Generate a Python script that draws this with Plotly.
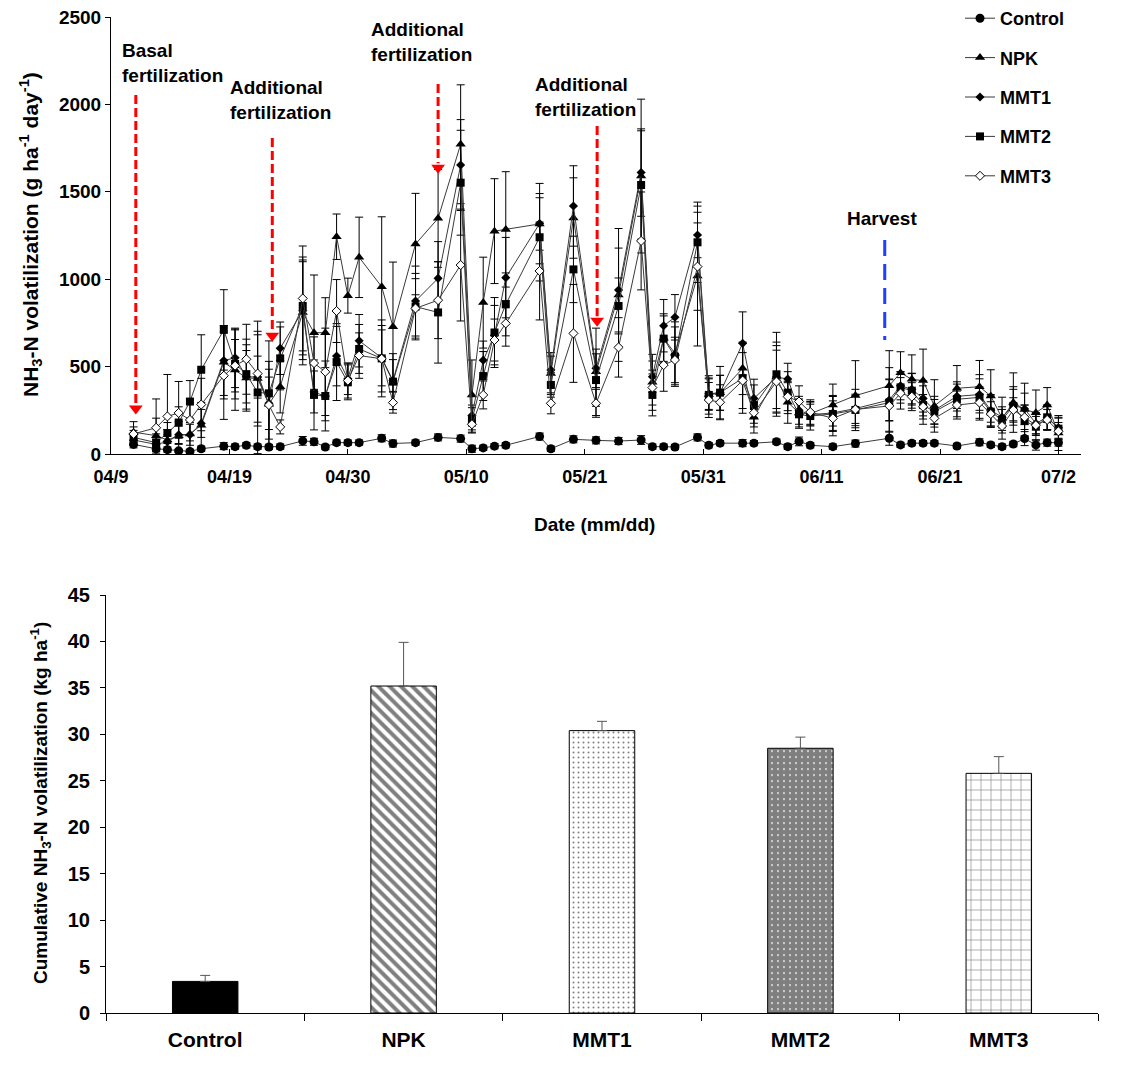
import plotly.graph_objects as go

# ---------------- data: daily NH3-N volatilization ----------------
# day offsets from 04/9
days = [2, 4, 5, 6, 7, 8, 10, 11, 12, 13, 14, 15, 17, 18, 19, 20, 21, 22, 24, 25, 27, 29,
        31, 32, 33, 34, 35, 38, 39, 41, 43, 45, 47, 48, 49, 50, 52, 53, 54, 56, 57, 59, 60,
        61, 62, 64, 66, 69, 70, 71, 72, 73, 75, 77, 78, 79, 80, 81, 82, 83, 84]

control = [55, 30, 25, 18, 15, 30, 45, 42, 50, 42, 40, 42, 75, 70, 40, 65, 65, 65, 90, 60, 65, 95,
           88, 30, 35, 45, 50, 100, 30, 84, 78, 74, 80, 42, 42, 40, 95, 50, 62, 62, 62, 70, 42,
           72, 50, 42, 60, 90, 52, 62, 62, 62, 46, 67, 52, 42, 57, 88, 52, 65, 65]
npk = [125, 105, 80, 105, 115, 165, 525, 480, 435, 432, 285, 385, 810, 694, 694, 1243, 906, 1125, 957, 728, 1201, 1348,
       1772, 338, 866, 1275, 1285, 1316, 460, 1350, 470, 910, 1590, 410, 662, 576, 1018, 340, 350, 490, 210, 440, 296,
       235, 230, 280, 334, 391, 465, 427, 420, 275, 376, 385, 332, 205, 294, 255, 236, 280, 120]
mmt1 = [80, 55, 70, 110, 110, 175, 535, 550, 442, 440, 290, 605, 820, 355, 330, 560, 430, 648, 550, 420, 875, 1005,
        1653, 220, 536, 680, 1009, 1318, 480, 1419, 490, 938, 1610, 442, 734, 782, 1253, 345, 350, 633, 318, 440, 429,
        250, 225, 235, 260, 309, 390, 370, 318, 250, 330, 340, 250, 210, 280, 258, 175, 210, 150]
mmt2 = [95, 65, 120, 180, 300, 482, 710, 515, 457, 352, 347, 547, 847, 338, 332, 526, 410, 601, 547, 414, 843, 810,
        1552, 195, 446, 695, 856, 1240, 395, 1056, 423, 847, 1539, 338, 660, 557, 1211, 338, 351, 433, 275, 456, 351,
        227, 217, 229, 252, 294, 381, 362, 280, 242, 313, 324, 242, 195, 275, 190, 156, 210, 145]
mmt3 = [115, 150, 215, 235, 195, 283, 448, 505, 542, 460, 280, 155, 890, 520, 470, 818, 420, 563, 545, 294, 833, 880,
        1081, 170, 338, 652, 747, 1047, 290, 690, 290, 610, 1219, 380, 509, 538, 1072, 309, 296, 420, 236, 414, 328,
        300, 240, 204, 255, 275, 347, 328, 270, 204, 280, 294, 229, 160, 252, 210, 165, 195, 130]

control_err = [20, 15, 15, 10, 10, 15, 20, 15, 15, 15, 15, 15, 25, 20, 15, 15, 15, 15, 20, 20, 15, 20,
               20, 20, 15, 15, 15, 20, 15, 20, 20, 20, 25, 15, 15, 15, 20, 15, 15, 20, 15, 15, 15,
               25, 15, 15, 20, 40, 15, 15, 15, 15, 15, 20, 15, 15, 15, 40, 30, 20, 20]
npk_err = [60, 100, 60, 80, 90, 130, 210, 230, 190, 250, 200, 150, 300, 330, 200, 130, 100, 230, 400, 370, 290, 280,
           340, 200, 260, 300, 330, 150, 120, 230, 250, 380, 440, 160, 140, 180, 400, 90, 100, 150, 90, 200, 120,
           80, 70, 120, 200, 200, 120, 140, 180, 150, 130, 150, 150, 120, 170, 150, 130, 100, 100]
mmt1_err = [30, 30, 40, 50, 60, 80, 200, 170, 150, 120, 150, 150, 280, 120, 140, 170, 90, 150, 160, 120, 200, 210,
            260, 60, 110, 170, 230, 230, 80, 230, 110, 240, 250, 90, 150, 130, 130, 90, 100, 180, 110, 180, 90,
            80, 60, 100, 110, 120, 80, 90, 100, 80, 70, 90, 90, 60, 90, 90, 60, 70, 60]
mmt2_err = [40, 50, 60, 90, 120, 200, 230, 200, 200, 350, 300, 180, 280, 200, 200, 220, 100, 140, 220, 160, 190, 290,
            300, 70, 140, 200, 180, 250, 70, 190, 150, 160, 310, 120, 130, 170, 230, 110, 150, 200, 120, 240, 120,
            80, 80, 100, 90, 200, 90, 100, 110, 70, 100, 130, 90, 60, 110, 90, 80, 70, 60]
mmt3_err = [40, 165, 240, 180, 120, 150, 250, 150, 200, 300, 250, 40, 300, 150, 250, 180, 100, 130, 190, 60, 170, 220,
            320, 50, 80, 120, 130, 280, 60, 280, 80, 170, 280, 100, 150, 130, 250, 100, 100, 160, 60, 180, 80,
            90, 70, 100, 80, 150, 90, 80, 70, 50, 80, 90, 70, 40, 70, 70, 50, 60, 50]

tick_days = [0, 10.5, 21, 31.5, 42, 52.5, 63, 73.5, 84]
tick_labels = ["04/9", "04/19", "04/30", "05/10", "05/21", "05/31", "06/11", "06/21", "07/2"]

# ---------------- data: cumulative ----------------
treatments = ["Control", "NPK", "MMT1", "MMT2", "MMT3"]
cumulative = [3.4, 35.2, 30.4, 28.5, 25.8]
cumulative_err = [0.65, 4.7, 1.0, 1.2, 1.8]

FONT = "Liberation Sans, Arial, sans-serif"
W, H = 1130, 1087

fig = go.Figure()

series = [
    ("Control", control, control_err, dict(symbol="circle", size=9, color="black")),
    ("NPK", npk, npk_err, dict(symbol="triangle-up", size=9, color="black")),
    ("MMT1", mmt1, mmt1_err, dict(symbol="diamond", size=7, color="black")),
    ("MMT2", mmt2, mmt2_err, dict(symbol="square", size=8, color="black")),
    ("MMT3", mmt3, mmt3_err, dict(symbol="diamond", size=7, color="white",
                                   line=dict(color="black", width=1))),
]
for i, (name, vals, errs, mk) in enumerate(series):
    fig.add_trace(go.Scatter(
        x=days, y=vals, name=name, mode="lines+markers",
        line=dict(color="#3a3a3a", width=1), marker=mk,
        error_y=dict(type="data", array=errs, visible=True, color="black", thickness=1, width=4),
        legendgroup=f"g{i}", xaxis="x", yaxis="y"))

# bar fill styles (one trace per treatment)
bar_styles = [
    dict(color="black"),
    dict(color="white", pattern=dict(shape="\\", size=8, solidity=0.5, fgcolor="black",
                                     bgcolor="white", fillmode="overlay")),
    dict(color="white", pattern=dict(shape=".", size=5, solidity=0.12, fgcolor="black",
                                     bgcolor="white", fillmode="overlay")),
    dict(color="white", pattern=dict(shape=".", size=6, solidity=0.85, fgcolor="black",
                                     bgcolor="white", fillmode="overlay")),
    dict(color="white", pattern=dict(shape="+", size=10, solidity=0.12, fgcolor="black",
                                     bgcolor="white", fillmode="overlay")),
]
for i, t in enumerate(treatments):
    st = dict(bar_styles[i])
    st["line"] = dict(color="black", width=1)
    fig.add_trace(go.Bar(
        x=[t], y=[cumulative[i]], width=0.33, showlegend=False, xaxis="x2", yaxis="y2",
        marker=st,
        error_y=dict(type="data", array=[cumulative_err[i]], symmetric=False, arrayminus=[0],
                     visible=True, color="#555555", thickness=1, width=5)))


def px_x(p):
    return p / W


def px_y(p):
    return 1 - p / H


# annotation arrows (red dashed, fertilization events) and harvest line, top-panel data coords
arrow_x = [2.2, 14.3, 29.0, 43.1]
arrow_top = [2054, 1808, 2117, 1876]
arrow_tip = [235, 652, 1613, 738]

fig.add_trace(go.Scatter(
    x=arrow_x, y=[v + 25 for v in arrow_tip], mode="markers", showlegend=False, hoverinfo="skip",
    marker=dict(symbol="triangle-down", size=12, color="#ff0000", line=dict(width=0)),
    xaxis="x", yaxis="y"))

fig.update_layout(
    width=W, height=H, margin=dict(l=0, r=0, t=0, b=0, autoexpand=False),
    plot_bgcolor="white", paper_bgcolor="white", barmode="overlay",
    font=dict(family=FONT, color="black", size=18),
    xaxis=dict(domain=[px_x(111), px_x(1081)], range=[0, 86], tickvals=tick_days,
               ticktext=[f"<b>{t}</b>" for t in tick_labels], ticks="inside", ticklen=5,
               tickcolor="black", showline=True, linecolor="black", linewidth=1,
               showgrid=False, zeroline=False, automargin=False, ticklabelstandoff=6,
               tickfont=dict(size=18, family=FONT)),
    yaxis=dict(domain=[px_y(454), px_y(17)], range=[0, 2500], dtick=500, ticks="outside",
               ticklen=5, tickcolor="black", showline=True, linecolor="black", linewidth=1,
               showgrid=False, zeroline=False, automargin=False,
               tickfont=dict(size=19, family=FONT, weight="bold")),
    xaxis2=dict(domain=[px_x(106), px_x(1098)], range=[-0.5, 4.5], type="category",
                tickson="boundaries", ticks="outside", ticklen=7, tickcolor="black",
                showline=True, linecolor="black", linewidth=1, showgrid=False,
                automargin=False, categoryorder="array", categoryarray=treatments,
                tickvals=treatments, ticktext=[f"<b>{t}</b>" for t in treatments],
                ticklabelstandoff=8,
                tickfont=dict(size=21, family=FONT), anchor="y2"),
    yaxis2=dict(domain=[px_y(1013), px_y(595)], range=[0, 45], dtick=5, ticks="outside",
                ticklen=5, tickcolor="black", showline=True, linecolor="black", linewidth=1,
                showgrid=False, zeroline=False, anchor="x2", automargin=False,
                ticklabelstandoff=6,
                tickfont=dict(size=20, family=FONT, weight="bold")),
    legend=dict(x=px_x(960), y=1.0, xanchor="left", yanchor="top",
                font=dict(size=18, family=FONT, weight="bold"), tracegroupgap=13,
                itemwidth=30, bgcolor="rgba(0,0,0,0)"),
    showlegend=True,
)

shapes = []
for ax_, y0, y1 in zip(arrow_x, arrow_top, arrow_tip):
    shapes.append(dict(type="line", xref="x", yref="y", x0=ax_, x1=ax_, y0=y0, y1=y1 + 50,
                       line=dict(color="#ff0000", width=3, dash="9px,4px")))
shapes.append(dict(type="line", xref="x", yref="y", x0=68.6, x1=68.6, y0=1224, y1=652,
                   line=dict(color="#1f3fff", width=3, dash="16px,8px")))

annotations = []
labels = [("Basal<br>fertilization", 0.8, 2237), ("Additional<br>fertilization", 10.4, 2025),
          ("Additional<br>fertilization", 22.9, 2357), ("Additional<br>fertilization", 37.4, 2042),
          ("Harvest", 65.1, 1350)]
for txt, lx, ly in labels:
    annotations.append(dict(x=lx, y=ly, xref="x", yref="y", text=f"<b>{txt}</b>", showarrow=False,
                            xanchor="left", yanchor="middle", align="left",
                            font=dict(size=19, family=FONT, color="black")))

annotations.append(dict(x=px_x(594), y=px_y(524), xref="paper", yref="paper",
                        text="<b>Date (mm/dd)</b>", showarrow=False,
                        xanchor="center", yanchor="middle", font=dict(size=19, family=FONT)))
annotations.append(dict(x=px_x(31), y=px_y(235), xref="paper", yref="paper", textangle=-90,
                        text="<b>NH<sub>3</sub>-N volatilization (g ha<sup>-1</sup> day<sup>-1</sup>)</b>",
                        xanchor="center", yanchor="middle",
                        showarrow=False, font=dict(size=21, family=FONT)))
annotations.append(dict(x=px_x(40), y=px_y(803), xref="paper", yref="paper", textangle=-90,
                        text="<b>Cumulative NH<sub>3</sub>-N volatilization (kg ha<sup>-1</sup>)</b>",
                        xanchor="center", yanchor="middle",
                        showarrow=False, font=dict(size=19, family=FONT)))

fig.update_layout(shapes=shapes, annotations=annotations)
fig.write_html("out.html")
